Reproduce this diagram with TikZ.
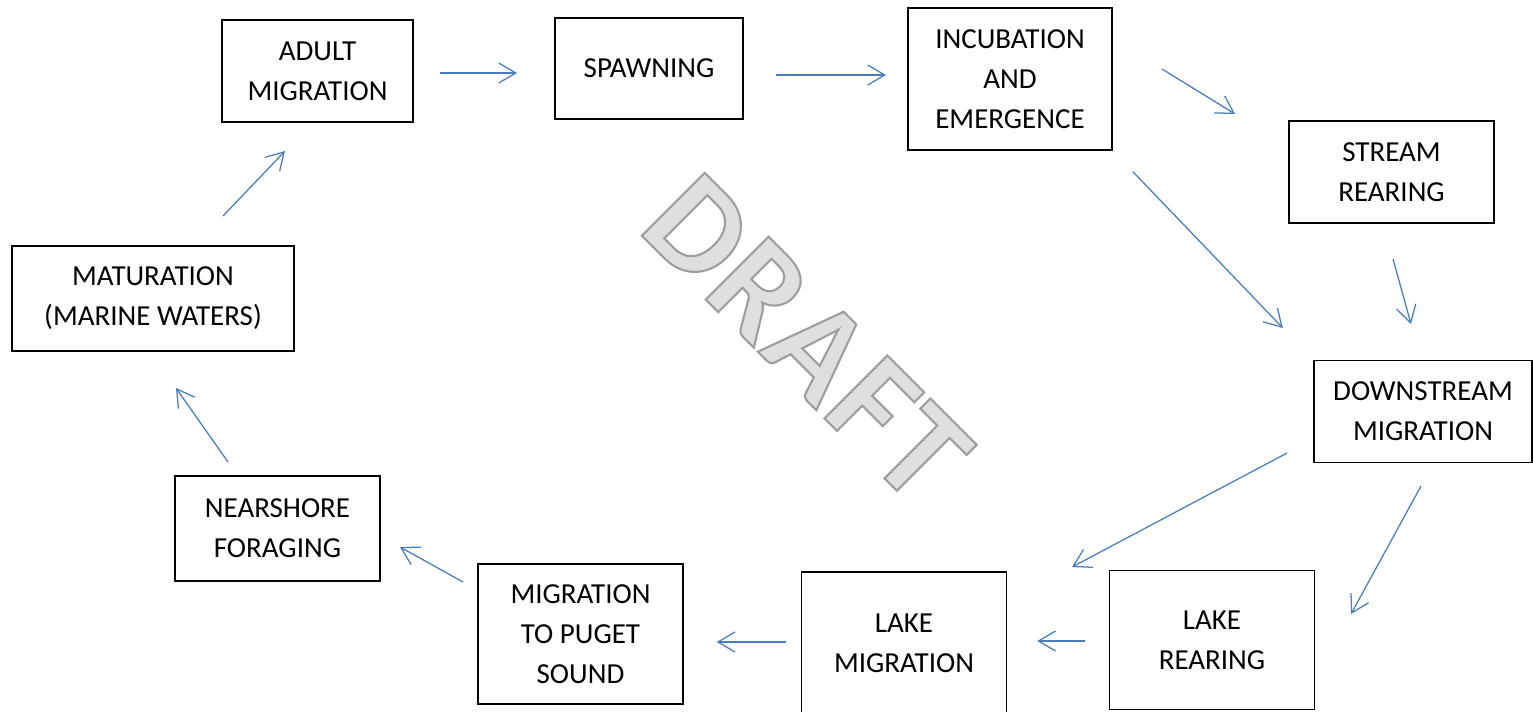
\documentclass[tikz,border=0pt]{standalone}
\usepackage{fontspec}
\setmainfont{Carlito}
\usetikzlibrary{arrows.meta}
\definecolor{flowblue}{RGB}{74,126,187}
\tikzset{
	box/.style={draw, line width=0.85pt, align=center, inner sep=0pt,
		font=\fontsize{16.5pt}{22.8pt}\selectfont},
	flow/.style={draw=flowblue, line width=0.72pt,
		-{Straight Barb[length=0.34cm, width=0.4cm, line join=miter]}},
}

\begin{document}
\begin{tikzpicture}[x=0.02cm, y=-0.02cm]
	\useasboundingbox (0,0) rectangle (1533,711);
	% watermark (fill + grey outline)
	\node[rotate=-45, inner sep=0pt, text=gray!25,
		font=\fontsize{78pt}{78pt}\selectfont\bfseries\addfontfeature{LetterSpace=3}]
		(draft) at (807,338) {\special{pdf:literal 2 Tr 0.62 G 1.2 w}DRAFT\special{pdf:literal 0 Tr}};
	% stages
	\node[box, minimum width=3.82cm, minimum height=2.04cm] (adult) at (317.5,71) {ADULT\\MIGRATION};
	\node[box, minimum width=3.76cm, minimum height=2.02cm] (spawn) at (649,68.5) {SPAWNING};
	\node[box, minimum width=4.08cm, minimum height=2.84cm] (incub) at (1010,79) {INCUBATION\\AND\\EMERGENCE};
	\node[box, minimum width=4.10cm, minimum height=2.04cm] (stream) at (1391.5,172) {STREAM\\REARING};
	\node[box, minimum width=4.36cm, minimum height=2.04cm] (down) at (1423,411.5) {DOWNSTREAM\\MIGRATION};
	\node[box, minimum width=4.10cm, minimum height=2.78cm] (lakerear) at (1212,640) {LAKE\\REARING};
	\node[box, minimum width=4.10cm, minimum height=2.84cm] (lakemig) at (904,643) {LAKE\\MIGRATION};
	\node[box, minimum width=4.10cm, minimum height=2.80cm] (puget) at (580.5,634) {MIGRATION\\TO PUGET\\SOUND};
	\node[box, minimum width=4.10cm, minimum height=2.10cm] (near) at (277.5,528.5) {NEARSHORE\\FORAGING};
	\node[box, minimum width=5.64cm, minimum height=2.10cm] (mature) at (153,298.5) {MATURATION\\(MARINE WATERS)};
	% free arrow ends
	\coordinate (adultout) at (440,73);    \coordinate (spawnin) at (517,73);
	\coordinate (spawnout) at (776,75);    \coordinate (incubin) at (886,75);
	\coordinate (incubout) at (1162,69);  \coordinate (streamin) at (1235,114);
	\coordinate (streamout) at (1393,259); \coordinate (downin) at (1411,324);
	\coordinate (downoutl) at (1287,453); \coordinate (lakemigin) at (1072,567);
	\coordinate (downoutr) at (1421,486); \coordinate (lakerearin) at (1351,614);
	\coordinate (pugetout) at (463,582);   \coordinate (nearin) at (400,547);
	\coordinate (nearout) at (228,462);    \coordinate (maturein) at (176,388);
	\coordinate (matureout) at (223,216);  \coordinate (adultin) at (285,151);
	% connectors
	\draw[flow, shorten <=0.58cm, shorten >=0.88cm] (incub.south east) -- (down.north west);
	\draw[flow, shorten <=0.48cm, shorten >=0.6cm] (lakerear.west |- 0,641) -- (lakemig.east |- 0,641);
	\draw[flow, shorten <=0.3cm, shorten >=0.66cm] (lakemig.west |- 0,642) -- (puget.east |- 0,642);
	\foreach \a/\b in {adultout/spawnin, spawnout/incubin, incubout/streamin, streamout/downin,
		downoutl/lakemigin, downoutr/lakerearin, pugetout/nearin, nearout/maturein, matureout/adultin}
		\draw[flow] (\a) -- (\b);
\end{tikzpicture}
\end{document}
